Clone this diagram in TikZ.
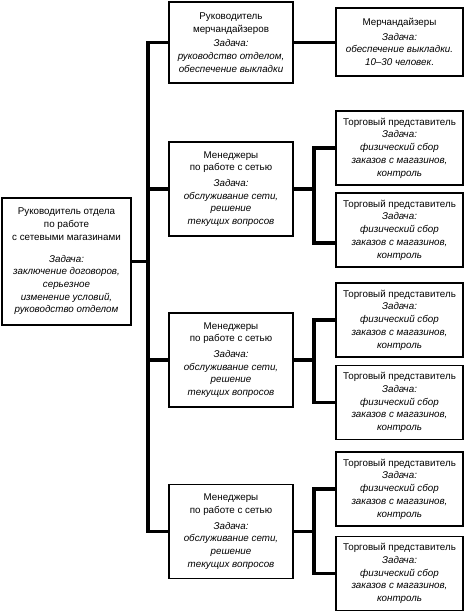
\documentclass[tikz,border=0pt]{standalone}
\usepackage{fontspec}
\setmainfont{Liberation Sans}

\tikzset{
  box/.style={draw, line width=1.4pt, align=center, inner sep=1pt,
    font=\fontsize{9.8}{12.7}\selectfont},
  conn/.style={line width=3.6pt},
  tpbox/.style={box, minimum width=127pt, minimum height=74pt}
}
\newcommand{\zd}[1]{\textit{#1}}
\newcommand{\tptext}{Торговый представитель\\\zd{Задача:}\\\zd{физический сбор}\\\zd{заказов с магазинов,}\\\zd{контроль}}
\newcommand{\mantext}{Менеджеры\\по работе с сетью\\[3pt]\zd{Задача:}\\\zd{обслуживание сети,}\\\zd{решение}\\\zd{текущих вопросов}}

\begin{document}
\begin{tikzpicture}[x=1pt,y=-1pt]
    \useasboundingbox (0,0) rectangle (465,614);
    % head
    \node[box, minimum width=129pt, minimum height=127pt] (lead) at (66.5,261.5)
        {Руководитель отдела\\по работе\\с сетевыми магазинами\\[9pt]\zd{Задача:}\\\zd{заключение договоров,}\\\zd{серьезное}\\\zd{изменение условий,}\\\zd{руководство отделом}};
    % merch
    \node[box, minimum width=124pt, minimum height=81pt] (rukmerch) at (231,42.5)
        {Руководитель\\мерчандайзеров\\[2pt]\zd{Задача:}\\\zd{руководство отделом,}\\\zd{обеспечение выкладки}};
    \node[box, minimum width=127pt, minimum height=68pt] (merch) at (399.5,42)
        {Мерчандайзеры\\[2pt]\zd{Задача:}\\\zd{обеспечение выкладки.}\\\zd{10--30 человек}.};
    % managers
    \node[box, minimum width=124pt, minimum height=94pt] (man1) at (231,189) {\mantext};
    \node[box, minimum width=124pt, minimum height=94pt] (man2) at (231,360) {\mantext};
    \node[box, minimum width=124pt, minimum height=94pt] (man3) at (231,531.5) {\mantext};
    % sales reps
    \node[tpbox] (tp1) at (399.5,148) {\tptext};
    \node[tpbox] (tp2) at (399.5,230) {\tptext};
    \node[tpbox] (tp3) at (399.5,320) {\tptext};
    \node[tpbox] (tp4) at (399.5,402.5) {\tptext};
    \node[tpbox] (tp5) at (399.5,489) {\tptext};
    \node[tpbox] (tp6) at (399.5,573.5) {\tptext};
    \coordinate (tp2in) at ([yshift=-13pt]tp2.west);
    % spine
    \coordinate (sp) at (148,0);
    \draw[conn] (rukmerch.west) -| (sp |- man3.west) -- (man3.west);
    \draw[conn] (lead.east) -- (lead.east -| sp);
    \draw[conn] (man1.west) -- (man1.west -| sp);
    \draw[conn] (man2.west) -- (man2.west -| sp);
    \draw[conn] (rukmerch.east) -- (rukmerch.east -| merch.west);
    % forks
    \coordinate (f1) at (314,0);
    \draw[conn] (man1.east) -- (man1.east -| f1);
    \draw[conn] (tp1.west) -| (f1 |- tp2in) -- (tp2in);
    \draw[conn] (man2.east) -- (man2.east -| f1);
    \draw[conn] (tp3.west) -| (f1 |- tp4.west) -- (tp4.west);
    \draw[conn] (man3.east) -- (man3.east -| f1);
    \draw[conn] (tp5.west) -| (f1 |- tp6.west) -- (tp6.west);
\end{tikzpicture}
\end{document}
